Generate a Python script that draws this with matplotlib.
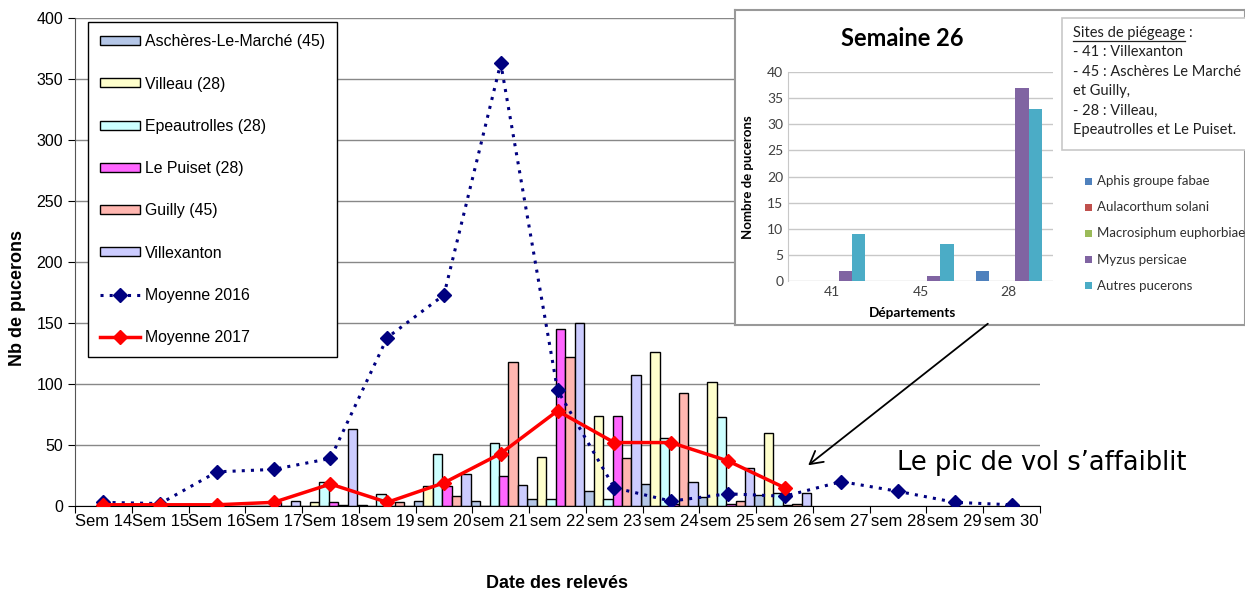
import numpy as np
import matplotlib
matplotlib.use("Agg")
import matplotlib.pyplot as plt
from matplotlib.patches import Rectangle, FancyArrowPatch
from matplotlib.lines import Line2D

nan = np.nan

# weeks
weeks = ["Sem 14", "Sem 15", "Sem 16", "Sem 17", "Sem 18", "sem 19", "sem 20",
         "sem 21", "sem 22", "sem 23", "sem 24", "sem 25", "sem 26", "sem 27",
         "sem 28", "sem 29", "sem 30"]

# counts per trapping site (2017)
sites = ["Aschères-Le-Marché (45)", "Villeau (28)", "Epeautrolles (28)",
         "Le Puiset (28)", "Guilly (45)", "Villexanton"]
ascheres = [nan, nan, nan, 0, 0, 1, 4, 4, 6, 12, 18, 7, 9, nan, nan, nan, nan]
villeau = [nan, nan, nan, 0, 3, 0, 16, 0, 40, 74, 126, 102, 60, nan, nan, nan, nan]
epeautrolles = [nan, nan, nan, 0, 20, 10, 43, 52, 6, 6, 56, 73, 11, nan, nan, nan, nan]
le_puiset = [nan, nan, nan, 3, 3, 0, 16, 25, 145, 74, 2, 2, 1, nan, nan, nan, nan]
guilly = [nan, nan, nan, 0, 1, 3, 8, 118, 122, 39, 93, 4, 2, nan, nan, nan, nan]
villexanton = [nan, nan, nan, 4, 63, 0, 26, 17, 150, 107, 20, 31, 11, nan, nan, nan, nan]

# averages
moy_2016 = [3, 2, 28, 30, 39, 138, 173, 363, 95, 15, 4, 10, 8, 20, 12, 3, 1]
moy_2017 = [1, 1, 1, 3, 18, 3, 19, 43, 78, 52, 52, 37, 15, nan, nan, nan, nan]

# inset : week 26 by department
depts = ["41", "45", "28"]
species = ["Aphis groupe fabae", "Aulacorthum solani", "Macrosiphum euphorbiae",
           "Myzus persicae", "Autres pucerons"]
aphis = [0, 0, 2]
aulacorthum = [0, 0, 0]
macrosiphum = [0, 0, 0]
myzus = [2, 1, 37]
autres = [9, 7, 33]

W, H = 1245, 591
plt.rcParams["font.family"] = ["Liberation Sans", "DejaVu Sans"]
fig = plt.figure(figsize=(W / 100, H / 100), dpi=100)


def fx(px):
    return px / W


def fy(py):
    return 1 - py / H


ax = fig.add_axes([fx(75), fy(506), fx(1040) - fx(75), fy(18) - fy(506)])

site_data = [ascheres, villeau, epeautrolles, le_puiset, guilly, villexanton]
site_colors = ["#B4C6E7", "#FFFFCC", "#CCFFFF", "#FF66FF", "#FFB6B0", "#CCCCFF"]
x = np.arange(len(weeks))
bw = 1 / 6.0
for i, (vals, col, lab) in enumerate(zip(site_data, site_colors, sites)):
    ax.bar(x + (i - 2.5) * bw - 0.03, vals, width=bw, color=col, edgecolor="black",
           linewidth=1, label=lab, zorder=2)

ax.plot(x, moy_2016, color="#000080", linestyle=(0, (1, 2)), linewidth=2.2,
        marker="D", markersize=7, label="Moyenne 2016", zorder=3)
ax.plot(x, moy_2017, color="#FF0000", linewidth=2.5,
        marker="D", markersize=7, label="Moyenne 2017", zorder=4)

ax.set_xlim(-0.5, len(weeks) - 0.5)
ax.set_ylim(0, 400)
ax.set_yticks(np.arange(0, 401, 50))
ax.set_xticks(np.arange(-0.5, len(weeks)), labels=[])
ax.set_xticks(x, labels=weeks, minor=True)
ax.tick_params(axis="x", which="major", length=5, color="black")
ax.tick_params(axis="x", which="minor", length=0, labelsize=12, pad=6)
ax.tick_params(axis="y", length=5, labelsize=11.5)
ax.grid(axis="y", color="#888888", linewidth=1, zorder=0)
ax.set_axisbelow(True)
for s in ["top", "right"]:
    ax.spines[s].set_visible(False)
ax.spines["left"].set_color("#555555")
ax.spines["bottom"].set_color("black")

fig.text(fx(18), fy(298), "Nb de pucerons", rotation=90, ha="center", va="center",
         fontsize=13, fontweight="bold")
fig.text(fx(557), fy(583), "Date des relevés", ha="center", va="center",
         fontsize=13, fontweight="bold")

handles, labels = ax.get_legend_handles_labels()
order = [2, 3, 4, 5, 6, 7, 0, 1]
leg = ax.legend([handles[k] for k in order], [labels[k] for k in order],
                loc="upper left", bbox_to_anchor=(fx(88), fy(22)),
                bbox_transform=fig.transFigure, borderaxespad=0, fontsize=11.4,
                fancybox=False, framealpha=1, edgecolor="black",
                handlelength=2.5, handleheight=0.5, labelspacing=1.72,
                borderpad=0.78, handletextpad=0.3)
leg.get_frame().set_linewidth(1)
leg.set_zorder(10)

# inset picture
bg = fig.add_axes([fx(735), fy(325), fx(1245) - fx(735), fy(10) - fy(325)])
bg.set_xticks([])
bg.set_yticks([])
bg.set_facecolor("white")
for s in bg.spines.values():
    s.set_color("#999999")
    s.set_linewidth(1.5)
bg.set_zorder(20)

ins = fig.add_axes([fx(788), fy(281), fx(1053) - fx(788), fy(72) - fy(281)])
ins.set_zorder(21)
sp_data = [aphis, aulacorthum, macrosiphum, myzus, autres]
sp_colors = ["#4F81BD", "#C0504D", "#9BBB59", "#8064A2", "#4BACC6"]
xi = np.arange(len(depts))
sw = 0.15
for i, (vals, col) in enumerate(zip(sp_data, sp_colors)):
    ins.bar(xi + (i - 2) * sw, vals, width=sw, color=col, zorder=2)
ins.set_xlim(-0.5, len(depts) - 0.5)
ins.set_ylim(0, 40)
ins.set_yticks(np.arange(0, 41, 5))
ins.set_xticks(xi, labels=depts)
ins.grid(axis="y", color="#C8C8C8", linewidth=1, zorder=0)
ins.set_axisbelow(True)
ins.tick_params(length=0, labelsize=10, labelcolor="#404040", labelfontfamily="Lato")
for s in ["top", "right", "bottom"]:
    ins.spines[s].set_visible(False)
ins.spines["left"].set_color("#C8C8C8")
ins.patch.set_alpha(0)

fig.text(fx(902), fy(38), "Semaine 26", ha="center", va="center", fontsize=17,
         fontweight="bold", family="Lato", zorder=30)
fig.text(fx(748), fy(177), "Nombre de pucerons", rotation=90, ha="center",
         va="center", fontsize=9.5, fontweight="bold", family="Lato", zorder=30)
fig.text(fx(912), fy(313), "Départements", ha="center", va="center", fontsize=9.8,
         fontweight="bold", family="Lato", zorder=30)

# text box
box = Rectangle((fx(1062), fy(150)), fx(1250) - fx(1062), fy(18) - fy(150),
                transform=fig.transFigure, facecolor="white", edgecolor="#C8C8C8",
                linewidth=1.2, zorder=25)
fig.add_artist(box)
lines_txt = ["Sites de piégeage :", "- 41 : Villexanton", "- 45 : Aschères Le Marché",
             "et Guilly,", "- 28 : Villeau,", "Epeautrolles et Le Puiset."]
for k, t in enumerate(lines_txt):
    fig.text(fx(1073), fy(33 + 19.4 * k), t, ha="left", va="center", fontsize=10.5,
             family="Lato", color="#202020", zorder=30)
# underline on the title of the box
fig.canvas.draw()
r = fig.canvas.get_renderer()
tmp = fig.text(fx(1073), fy(33), "Sites de piégeage", ha="left", va="center",
               fontsize=10.5, family="Lato", alpha=0)
ext = tmp.get_window_extent(r)
tmp.remove()
fig.add_artist(Line2D([ext.x0 / W, ext.x1 / W], [fy(41), fy(41)],
                      transform=fig.transFigure, color="#202020", linewidth=0.9,
                      zorder=30))

# inset legend
for k, (lab, col) in enumerate(zip(species, sp_colors)):
    yy = 181 + 26.2 * k
    fig.add_artist(Rectangle((fx(1085), fy(yy + 3.5)), fx(7), 7 / H,
                             transform=fig.transFigure, facecolor=col,
                             edgecolor="none", zorder=30))
    fig.text(fx(1097), fy(yy), lab, ha="left", va="center", fontsize=9.5,
             family="Lato", color="#303030", zorder=30)

# annotation
arr = FancyArrowPatch((fx(990), fy(322)), (fx(806), fy(467)),
                      transform=fig.transFigure, arrowstyle="->,head_length=9,head_width=5",
                      color="black", linewidth=1.3, zorder=30)
fig.add_artist(arr)
fig.text(fx(897), fy(463), "Le pic de vol s\u2019affaiblit", ha="left", va="center",
         fontsize=18.5, family="DejaVu Sans", zorder=30)

fig.savefig("out.png", dpi=100)
